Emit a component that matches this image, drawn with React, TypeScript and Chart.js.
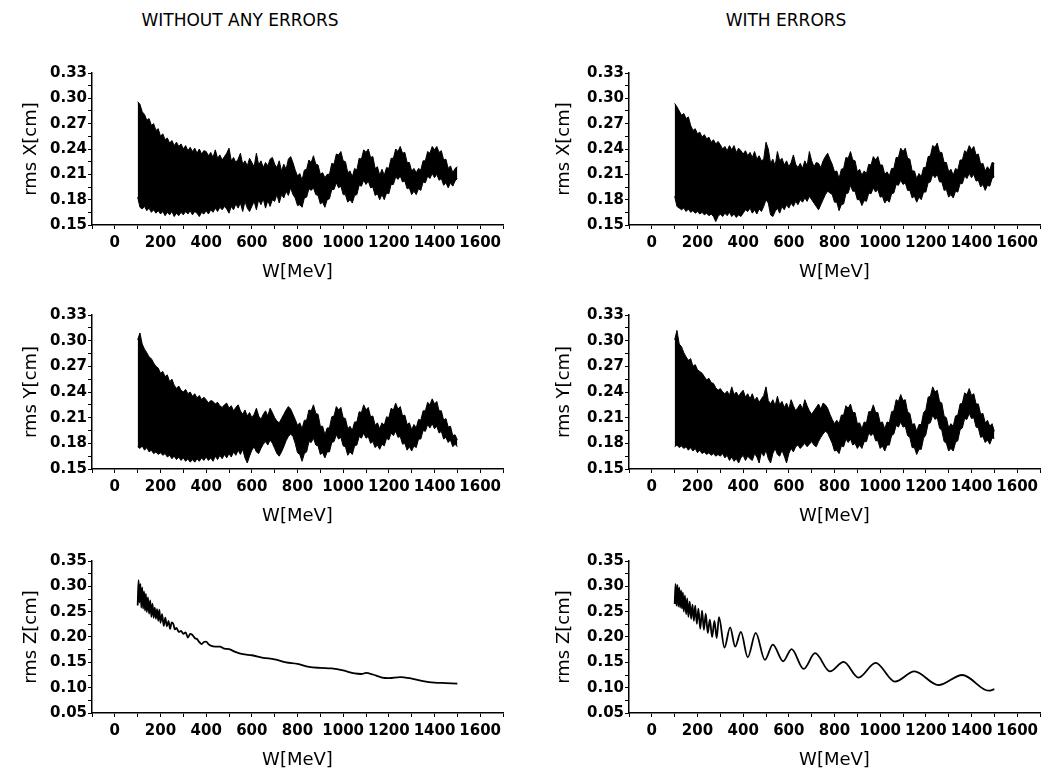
import React, { useEffect, useRef } from 'react';
import { Chart, registerables } from 'chart.js';
Chart.register(...registerables);

// ---------- data ----------
const W = [
  100, 110, 120, 130, 140, 150, 160, 170, 180, 190,
  200, 210, 220, 230, 240, 250, 260, 270, 280, 290,
  300, 310, 320, 330, 340, 350, 360, 370, 380, 390,
  400, 410, 420, 430, 440, 450, 460, 470, 480, 490,
  500, 510, 520, 530, 540, 550, 560, 570, 580, 590,
  600, 610, 620, 630, 640, 650, 660, 670, 680, 690,
  700, 710, 720, 730, 740, 750, 760, 770, 780, 790,
  800, 810, 820, 830, 840, 850, 860, 870, 880, 890,
  900, 910, 920, 930, 940, 950, 960, 970, 980, 990,
  1000, 1010, 1020, 1030, 1040, 1050, 1060, 1070, 1080, 1090,
  1100, 1110, 1120, 1130, 1140, 1150, 1160, 1170, 1180, 1190,
  1200, 1210, 1220, 1230, 1240, 1250, 1260, 1270, 1280, 1290,
  1300, 1310, 1320, 1330, 1340, 1350, 1360, 1370, 1380, 1390,
  1400, 1410, 1420, 1430, 1440, 1450, 1460, 1470, 1480, 1490,
  1500,
];

// rms X, without errors: upper / lower envelope of the band
const xNoErrUpper = [
  0.296, 0.293, 0.284, 0.281, 0.274, 0.276, 0.268, 0.270, 0.262, 0.264,
  0.255, 0.258, 0.251, 0.253, 0.247, 0.250, 0.244, 0.248, 0.243, 0.246,
  0.240, 0.244, 0.238, 0.242, 0.237, 0.241, 0.235, 0.240, 0.234, 0.238,
  0.237, 0.232, 0.236, 0.230, 0.239, 0.229, 0.233, 0.227, 0.231, 0.235,
  0.241, 0.226, 0.230, 0.224, 0.228, 0.235, 0.222, 0.226, 0.220, 0.229,
  0.224, 0.219, 0.235, 0.221, 0.226, 0.218, 0.224, 0.220, 0.228, 0.230,
  0.222, 0.218, 0.226, 0.214, 0.222, 0.216, 0.228, 0.231, 0.224, 0.215,
  0.208, 0.211, 0.203, 0.215, 0.216, 0.227, 0.224, 0.232, 0.222, 0.221,
  0.210, 0.212, 0.206, 0.210, 0.210, 0.223, 0.222, 0.234, 0.233, 0.237,
  0.226, 0.225, 0.212, 0.214, 0.207, 0.217, 0.215, 0.229, 0.228, 0.239,
  0.236, 0.240, 0.230, 0.231, 0.217, 0.219, 0.209, 0.216, 0.209, 0.218,
  0.217, 0.229, 0.229, 0.240, 0.237, 0.243, 0.235, 0.236, 0.224, 0.224,
  0.214, 0.217, 0.212, 0.217, 0.215, 0.226, 0.226, 0.237, 0.235, 0.243,
  0.239, 0.243, 0.236, 0.238, 0.227, 0.228, 0.217, 0.220, 0.212, 0.217,
  0.219,
];
const xNoErrLower = [
  0.183, 0.171, 0.169, 0.172, 0.167, 0.170, 0.165, 0.168, 0.164, 0.167,
  0.163, 0.166, 0.161, 0.165, 0.162, 0.166, 0.160, 0.164, 0.161, 0.165,
  0.162, 0.166, 0.163, 0.167, 0.162, 0.166, 0.164, 0.160, 0.165, 0.163,
  0.167, 0.163, 0.168, 0.165, 0.170, 0.166, 0.171, 0.168, 0.172, 0.169,
  0.164, 0.172, 0.168, 0.175, 0.170, 0.176, 0.166, 0.178, 0.170, 0.166,
  0.172, 0.178, 0.168, 0.180, 0.174, 0.181, 0.170, 0.179, 0.172, 0.180,
  0.178, 0.186, 0.176, 0.186, 0.182, 0.190, 0.185, 0.194, 0.186, 0.182,
  0.173, 0.174, 0.171, 0.182, 0.183, 0.193, 0.191, 0.194, 0.186, 0.185,
  0.175, 0.177, 0.171, 0.180, 0.181, 0.192, 0.192, 0.200, 0.194, 0.196,
  0.186, 0.186, 0.177, 0.180, 0.176, 0.185, 0.186, 0.197, 0.196, 0.203,
  0.198, 0.202, 0.194, 0.195, 0.185, 0.187, 0.180, 0.186, 0.180, 0.188,
  0.187, 0.198, 0.198, 0.207, 0.204, 0.208, 0.201, 0.202, 0.193, 0.194,
  0.186, 0.190, 0.186, 0.193, 0.191, 0.201, 0.200, 0.208, 0.205, 0.211,
  0.206, 0.210, 0.203, 0.205, 0.197, 0.200, 0.194, 0.200, 0.196, 0.202,
  0.205,
];

// rms X, with errors
const xErrUpper = [
  0.294, 0.290, 0.285, 0.280, 0.282, 0.276, 0.278, 0.268, 0.262, 0.264,
  0.258, 0.260, 0.254, 0.257, 0.252, 0.254, 0.248, 0.251, 0.246, 0.249,
  0.245, 0.240, 0.243, 0.238, 0.244, 0.239, 0.244, 0.236, 0.241, 0.238,
  0.234, 0.238, 0.232, 0.236, 0.230, 0.237, 0.228, 0.232, 0.226, 0.228,
  0.248, 0.240, 0.223, 0.228, 0.220, 0.237, 0.226, 0.229, 0.221, 0.226,
  0.219, 0.224, 0.233, 0.222, 0.218, 0.223, 0.217, 0.226, 0.220, 0.237,
  0.226, 0.219, 0.224, 0.223, 0.218, 0.226, 0.231, 0.235, 0.228, 0.222,
  0.213, 0.214, 0.205, 0.216, 0.217, 0.230, 0.229, 0.237, 0.227, 0.226,
  0.213, 0.216, 0.209, 0.214, 0.211, 0.222, 0.221, 0.231, 0.227, 0.231,
  0.221, 0.221, 0.210, 0.213, 0.208, 0.217, 0.217, 0.230, 0.230, 0.241,
  0.237, 0.241, 0.229, 0.228, 0.214, 0.214, 0.205, 0.211, 0.207, 0.218,
  0.218, 0.231, 0.232, 0.244, 0.242, 0.247, 0.236, 0.236, 0.224, 0.224,
  0.213, 0.216, 0.209, 0.217, 0.215, 0.227, 0.227, 0.238, 0.236, 0.244,
  0.239, 0.243, 0.233, 0.234, 0.222, 0.223, 0.214, 0.219, 0.215, 0.224,
  0.223,
];
const xErrLower = [
  0.184, 0.172, 0.170, 0.168, 0.170, 0.166, 0.169, 0.165, 0.167, 0.164,
  0.166, 0.163, 0.165, 0.162, 0.164, 0.161, 0.163, 0.160, 0.154, 0.160,
  0.163, 0.160, 0.164, 0.161, 0.165, 0.160, 0.163, 0.159, 0.162, 0.160,
  0.164, 0.168, 0.166, 0.170, 0.164, 0.168, 0.163, 0.169, 0.166, 0.172,
  0.180, 0.176, 0.162, 0.160, 0.166, 0.170, 0.164, 0.172, 0.168, 0.174,
  0.170, 0.176, 0.172, 0.178, 0.174, 0.180, 0.177, 0.182, 0.178, 0.184,
  0.180, 0.176, 0.172, 0.168, 0.174, 0.180, 0.186, 0.190, 0.188, 0.186,
  0.177, 0.177, 0.167, 0.174, 0.175, 0.187, 0.188, 0.197, 0.190, 0.190,
  0.180, 0.180, 0.173, 0.179, 0.178, 0.188, 0.187, 0.194, 0.189, 0.192,
  0.183, 0.184, 0.176, 0.180, 0.177, 0.187, 0.188, 0.198, 0.197, 0.203,
  0.198, 0.200, 0.191, 0.191, 0.182, 0.184, 0.177, 0.183, 0.180, 0.189,
  0.189, 0.200, 0.201, 0.210, 0.206, 0.210, 0.201, 0.201, 0.191, 0.192,
  0.183, 0.186, 0.182, 0.190, 0.189, 0.199, 0.199, 0.208, 0.205, 0.211,
  0.206, 0.210, 0.202, 0.203, 0.195, 0.198, 0.191, 0.197, 0.196, 0.205,
  0.207,
];

// rms Y, without errors
const yNoErrUpper = [
  0.301, 0.309, 0.296, 0.290, 0.286, 0.281, 0.279, 0.274, 0.270, 0.268,
  0.262, 0.264, 0.258, 0.260, 0.252, 0.255, 0.248, 0.244, 0.247, 0.242,
  0.240, 0.243, 0.238, 0.240, 0.235, 0.238, 0.233, 0.236, 0.231, 0.234,
  0.231, 0.227, 0.230, 0.229, 0.226, 0.228, 0.224, 0.222, 0.225, 0.227,
  0.221, 0.224, 0.218, 0.222, 0.225, 0.218, 0.214, 0.219, 0.212, 0.216,
  0.210, 0.214, 0.221, 0.212, 0.208, 0.214, 0.218, 0.212, 0.221, 0.216,
  0.210, 0.206, 0.204, 0.209, 0.214, 0.219, 0.223, 0.220, 0.214, 0.208,
  0.201, 0.204, 0.197, 0.207, 0.207, 0.219, 0.218, 0.225, 0.215, 0.214,
  0.200, 0.200, 0.190, 0.198, 0.198, 0.211, 0.212, 0.223, 0.219, 0.222,
  0.210, 0.209, 0.197, 0.200, 0.195, 0.205, 0.205, 0.217, 0.216, 0.225,
  0.219, 0.222, 0.211, 0.212, 0.201, 0.204, 0.197, 0.204, 0.201, 0.211,
  0.210, 0.221, 0.219, 0.227, 0.220, 0.223, 0.212, 0.213, 0.202, 0.204,
  0.196, 0.202, 0.198, 0.208, 0.207, 0.218, 0.218, 0.228, 0.225, 0.232,
  0.226, 0.229, 0.218, 0.218, 0.207, 0.209, 0.199, 0.200, 0.189, 0.190,
  0.184,
];
const yNoErrLower = [
  0.176, 0.174, 0.177, 0.172, 0.175, 0.170, 0.172, 0.168, 0.170, 0.167,
  0.169, 0.166, 0.168, 0.164, 0.166, 0.162, 0.165, 0.161, 0.164, 0.160,
  0.163, 0.159, 0.162, 0.158, 0.161, 0.158, 0.162, 0.159, 0.163, 0.160,
  0.164, 0.160, 0.163, 0.159, 0.165, 0.161, 0.166, 0.162, 0.167, 0.163,
  0.168, 0.164, 0.170, 0.166, 0.172, 0.167, 0.173, 0.163, 0.157, 0.165,
  0.172, 0.176, 0.170, 0.168, 0.174, 0.179, 0.182, 0.178, 0.184, 0.180,
  0.174, 0.168, 0.165, 0.170, 0.176, 0.183, 0.188, 0.191, 0.188, 0.180,
  0.169, 0.167, 0.159, 0.168, 0.170, 0.182, 0.181, 0.186, 0.178, 0.177,
  0.167, 0.169, 0.163, 0.170, 0.170, 0.181, 0.182, 0.190, 0.185, 0.187,
  0.177, 0.176, 0.166, 0.170, 0.167, 0.177, 0.178, 0.188, 0.186, 0.192,
  0.186, 0.188, 0.180, 0.182, 0.175, 0.178, 0.173, 0.179, 0.177, 0.186,
  0.184, 0.192, 0.189, 0.194, 0.187, 0.188, 0.179, 0.180, 0.172, 0.176,
  0.171, 0.177, 0.175, 0.185, 0.185, 0.195, 0.194, 0.202, 0.198, 0.203,
  0.197, 0.200, 0.192, 0.194, 0.185, 0.187, 0.181, 0.184, 0.176, 0.179,
  0.176,
];

// rms Y, with errors
const yErrUpper = [
  0.301, 0.312, 0.296, 0.293, 0.286, 0.281, 0.277, 0.279, 0.270, 0.272,
  0.266, 0.264, 0.262, 0.258, 0.254, 0.256, 0.251, 0.250, 0.245, 0.242,
  0.244, 0.240, 0.238, 0.241, 0.236, 0.246, 0.237, 0.240, 0.235, 0.239,
  0.242, 0.234, 0.238, 0.232, 0.238, 0.230, 0.234, 0.228, 0.232, 0.236,
  0.246, 0.230, 0.226, 0.231, 0.224, 0.235, 0.225, 0.229, 0.222, 0.227,
  0.220, 0.231, 0.224, 0.218, 0.222, 0.226, 0.220, 0.231, 0.224, 0.218,
  0.214, 0.218, 0.222, 0.226, 0.220, 0.227, 0.225, 0.221, 0.214, 0.208,
  0.203, 0.207, 0.203, 0.213, 0.213, 0.224, 0.221, 0.226, 0.216, 0.216,
  0.203, 0.204, 0.197, 0.205, 0.204, 0.217, 0.217, 0.225, 0.216, 0.216,
  0.204, 0.205, 0.197, 0.205, 0.204, 0.217, 0.218, 0.231, 0.229, 0.237,
  0.230, 0.231, 0.217, 0.215, 0.202, 0.203, 0.194, 0.202, 0.202, 0.216,
  0.219, 0.234, 0.235, 0.246, 0.240, 0.242, 0.229, 0.227, 0.212, 0.210,
  0.198, 0.203, 0.200, 0.212, 0.213, 0.226, 0.227, 0.239, 0.237, 0.244,
  0.236, 0.238, 0.226, 0.226, 0.214, 0.215, 0.204, 0.207, 0.200, 0.203,
  0.194,
];
const yErrLower = [
  0.176, 0.178, 0.175, 0.177, 0.174, 0.176, 0.172, 0.175, 0.171, 0.174,
  0.169, 0.172, 0.168, 0.170, 0.167, 0.169, 0.166, 0.168, 0.165, 0.167,
  0.165, 0.168, 0.163, 0.166, 0.160, 0.164, 0.159, 0.162, 0.157, 0.163,
  0.166, 0.160, 0.165, 0.162, 0.160, 0.168, 0.164, 0.157, 0.170, 0.165,
  0.172, 0.162, 0.157, 0.168, 0.174, 0.167, 0.165, 0.172, 0.165, 0.157,
  0.168, 0.174, 0.170, 0.176, 0.178, 0.174, 0.177, 0.180, 0.176, 0.179,
  0.182, 0.178, 0.176, 0.182, 0.187, 0.191, 0.194, 0.192, 0.186, 0.180,
  0.171, 0.172, 0.168, 0.177, 0.176, 0.185, 0.181, 0.185, 0.178, 0.180,
  0.174, 0.178, 0.174, 0.182, 0.182, 0.192, 0.189, 0.192, 0.183, 0.183,
  0.174, 0.177, 0.171, 0.178, 0.178, 0.189, 0.191, 0.201, 0.199, 0.205,
  0.199, 0.200, 0.189, 0.187, 0.175, 0.175, 0.167, 0.173, 0.173, 0.186,
  0.190, 0.203, 0.204, 0.213, 0.208, 0.210, 0.198, 0.195, 0.182, 0.180,
  0.171, 0.174, 0.171, 0.181, 0.183, 0.196, 0.198, 0.209, 0.208, 0.215,
  0.209, 0.210, 0.199, 0.198, 0.187, 0.188, 0.181, 0.184, 0.179, 0.186,
  0.186,
];

// rms Z, without errors
const zNoErrW = [
  100, 104, 108, 112, 116, 120, 124, 128, 132, 136, 140, 145, 150, 155, 160, 165, 170, 175,
  180, 185, 190, 195, 200, 207, 214, 221, 228, 235, 242, 249, 256, 263, 270, 280, 290, 300,
  310, 320, 330, 340, 350, 360, 370, 380, 390, 400, 410, 420, 440, 460, 480, 500, 530, 560,
  600, 650, 700, 750, 800, 850, 900, 950, 1000, 1050, 1080, 1100, 1130, 1170, 1200, 1250,
  1300, 1350, 1400, 1450, 1500,
];
const zNoErr = [
  0.262, 0.312, 0.268, 0.305, 0.258, 0.298, 0.256, 0.290, 0.252, 0.285, 0.249, 0.278, 0.246, 0.272, 0.240, 0.266, 0.238, 0.258,
  0.236, 0.255, 0.232, 0.254, 0.228, 0.245, 0.222, 0.238, 0.221, 0.232, 0.216, 0.229, 0.226, 0.215, 0.218, 0.210, 0.212, 0.206,
  0.209, 0.199, 0.206, 0.204, 0.198, 0.196, 0.190, 0.186, 0.190, 0.191, 0.186, 0.183, 0.181, 0.181, 0.177, 0.176, 0.170, 0.166,
  0.164, 0.159, 0.156, 0.150, 0.147, 0.141, 0.139, 0.138, 0.134, 0.128, 0.127, 0.129, 0.126, 0.120, 0.119, 0.121,
  0.118, 0.113, 0.110, 0.109, 0.108,
];

// rms Z, with errors
const zErrW = [
  100, 104, 108, 112, 116, 120, 124, 128, 132, 136, 140, 145, 150, 155, 160, 166, 172, 178,
  184, 190, 197, 204, 212, 220, 228, 236, 245, 254, 264, 274, 284, 294, 318, 343, 365, 390,
  420, 455, 495, 530, 575, 612, 665, 715, 780, 840, 905, 980, 1065, 1150, 1255, 1360, 1475, 1500,
];
const zErr = [
  0.265, 0.305, 0.262, 0.303, 0.260, 0.298, 0.258, 0.292, 0.256, 0.288, 0.250, 0.282, 0.245, 0.276, 0.240, 0.270, 0.236, 0.264,
  0.232, 0.262, 0.226, 0.256, 0.216, 0.252, 0.214, 0.246, 0.208, 0.234, 0.200, 0.232, 0.198, 0.239, 0.179, 0.219, 0.181, 0.210,
  0.160, 0.208, 0.155, 0.185, 0.152, 0.176, 0.137, 0.168, 0.132, 0.151, 0.120, 0.149, 0.112, 0.132, 0.105, 0.125, 0.094, 0.097,
];

const titles = ['WITHOUT ANY ERRORS', 'WITH ERRORS'];
const yTitles = ['rms X[cm]', 'rms Y[cm]', 'rms Z[cm]'];
const xTitle = 'W[MeV]';

// ---------- chart helpers ----------
const BLACK = '#000000';
const tickFont = { family: 'DejaVu Sans', size: 15, weight: 'bold' as const };
const titleFont = { family: 'DejaVu Sans', size: 18, weight: 'normal' as const };

function toPts(xs: number[], ys: number[]) {
  return xs.map((x, i) => ({ x, y: ys[i] }));
}

function bandDatasets(upper: number[], lower: number[]) {
  return [
    {
      data: toPts(W, upper),
      borderColor: BLACK,
      backgroundColor: BLACK,
      borderWidth: 1,
      pointRadius: 0,
      fill: '+1',
    },
    {
      data: toPts(W, lower),
      borderColor: BLACK,
      backgroundColor: BLACK,
      borderWidth: 1,
      pointRadius: 0,
      fill: false,
    },
  ];
}

function lineDatasets(xs: number[], ys: number[]) {
  return [
    {
      data: toPts(xs, ys),
      borderColor: BLACK,
      borderWidth: 1.8,
      pointRadius: 0,
      fill: false,
      cubicInterpolationMode: 'monotone',
    },
  ];
}

type PanelProps = {
  left: number;
  top: number;
  width: number;
  height: number;
  yAxisWidth: number;
  padRight: number;
  yTitle: string;
  yTitlePad: number;
  yMin: number;
  yMax: number;
  yStep: number;
  yLabelStep: number; // in thousandths
  datasets: any[];
};

function Panel(p: PanelProps) {
  const ref = useRef<HTMLCanvasElement>(null);
  useEffect(() => {
    const chart = new Chart(ref.current as HTMLCanvasElement, {
      type: 'line',
      data: { datasets: p.datasets },
      options: {
        animation: false,
        responsive: false,
        devicePixelRatio: 1,
        layout: { padding: { top: 13, right: p.padRight, left: 0, bottom: 0 } },
        plugins: { legend: { display: false }, tooltip: { enabled: false } },
        scales: {
          x: {
            type: 'linear',
            min: -100,
            max: 1700,
            afterFit: (a: any) => {
              a.height = 58;
            },
            border: { display: true, color: BLACK, width: 1.5 },
            grid: { display: true, drawOnChartArea: false, drawTicks: true, tickLength: 4, color: BLACK, lineWidth: 1 },
            ticks: {
              stepSize: 100,
              autoSkip: false,
              maxRotation: 0,
              padding: 5,
              color: BLACK,
              font: tickFont,
              callback: (v: any) => {
                const r = Math.round(Number(v));
                return r % 200 === 0 ? String(r) : '';
              },
            },
            title: { display: true, text: xTitle, color: BLACK, font: titleFont, padding: { top: 0, bottom: 0 } },
          },
          y: {
            type: 'linear',
            min: p.yMin,
            max: p.yMax,
            afterFit: (a: any) => {
              a.width = p.yAxisWidth;
            },
            border: { display: true, color: BLACK, width: 1.5 },
            grid: { display: true, drawOnChartArea: false, drawTicks: true, tickLength: 4, color: BLACK, lineWidth: 1 },
            ticks: {
              stepSize: p.yStep,
              autoSkip: false,
              padding: 1,
              color: BLACK,
              font: tickFont,
              callback: (v: any) => {
                const r = Math.round(Number(v) * 1000);
                return r % p.yLabelStep === 0 ? (r / 1000).toFixed(2) : '';
              },
            },
            title: { display: true, text: p.yTitle, color: BLACK, font: titleFont, padding: { top: p.yTitlePad, bottom: 0 } },
          },
        },
      } as any,
    });
    return () => chart.destroy();
  }, []);
  return (
    <canvas
      ref={ref}
      width={p.width}
      height={p.height}
      style={{ position: 'absolute', left: p.left, top: p.top, width: p.width, height: p.height }}
    />
  );
}

export default function App() {
  const rows = [
    { top: 60, height: 223, yMin: 0.15, yMax: 0.33, yStep: 0.015, yLabelStep: 30, left: bandDatasets(xNoErrUpper, xNoErrLower), right: bandDatasets(xErrUpper, xErrLower) },
    { top: 302, height: 225, yMin: 0.15, yMax: 0.33, yStep: 0.015, yLabelStep: 30, left: bandDatasets(yNoErrUpper, yNoErrLower), right: bandDatasets(yErrUpper, yErrLower) },
    { top: 548, height: 223, yMin: 0.05, yMax: 0.35, yStep: 0.025, yLabelStep: 50, left: lineDatasets(zNoErrW, zNoErr), right: lineDatasets(zErrW, zErr) },
  ];
  return (
    <div style={{ position: 'absolute', left: 0, top: 0, width: 1045, height: 775, background: '#ffffff', overflow: 'hidden' }}>
      <div style={{ position: 'absolute', left: 40, top: 10, width: 400, textAlign: 'center', fontFamily: 'DejaVu Sans', fontSize: 17, lineHeight: '20px', color: BLACK }}>
        {titles[0]}
      </div>
      <div style={{ position: 'absolute', left: 586, top: 10, width: 400, textAlign: 'center', fontFamily: 'DejaVu Sans', fontSize: 17, lineHeight: '20px', color: BLACK }}>
        {titles[1]}
      </div>
      {rows.map((r, i) => (
        <React.Fragment key={i}>
          <Panel left={0} top={r.top} width={520} height={r.height} yAxisWidth={92} padRight={17} yTitle={yTitles[i]} yTitlePad={21}
            yMin={r.yMin} yMax={r.yMax} yStep={r.yStep} yLabelStep={r.yLabelStep} datasets={r.left} />
          <Panel left={520} top={r.top} width={525} height={r.height} yAxisWidth={109} padRight={5} yTitle={yTitles[i]} yTitlePad={34}
            yMin={r.yMin} yMax={r.yMax} yStep={r.yStep} yLabelStep={r.yLabelStep} datasets={r.right} />
        </React.Fragment>
      ))}
    </div>
  );
}
